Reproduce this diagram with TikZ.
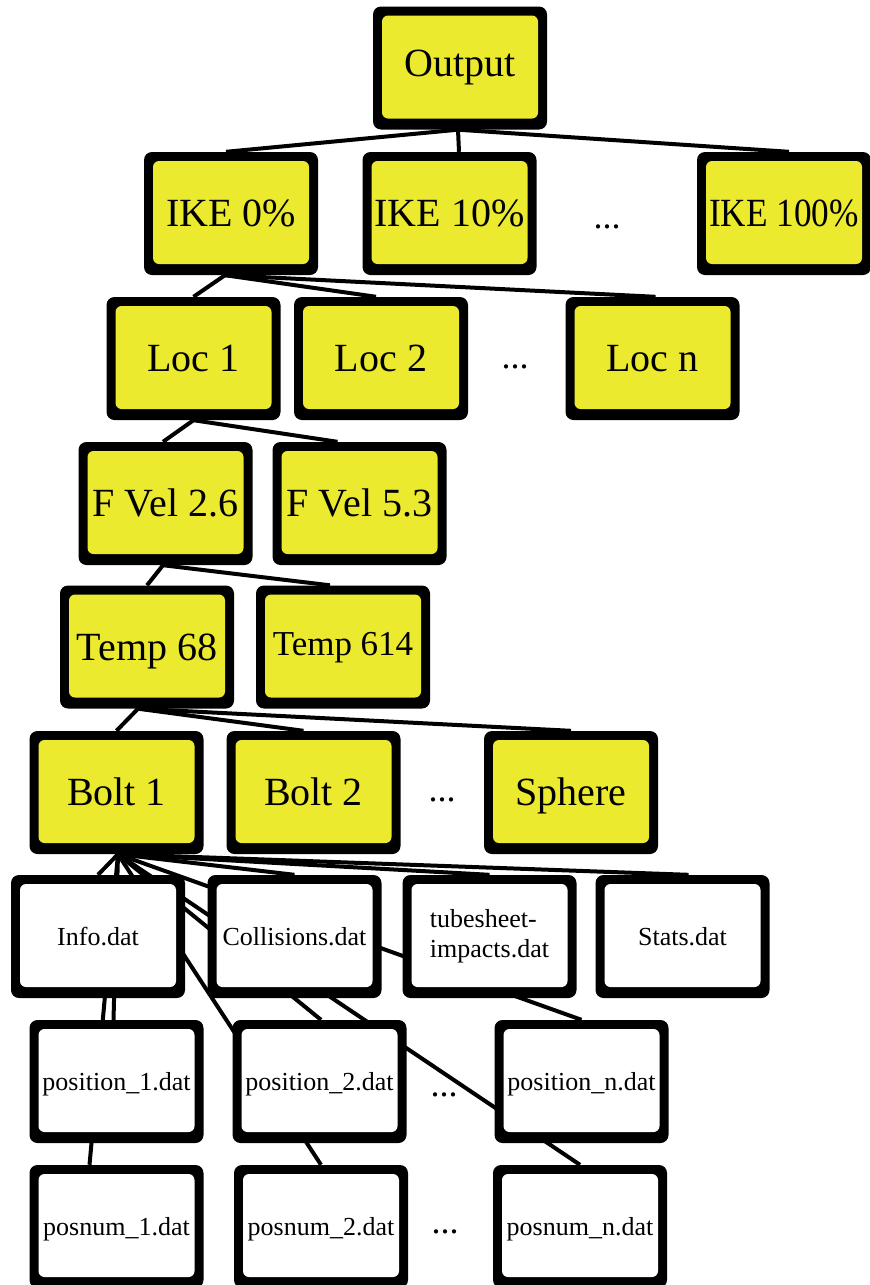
\documentclass[tikz,border=0pt]{standalone}
\usepackage{fontspec}
\setmainfont{Liberation Serif}
\usetikzlibrary{backgrounds,calc}
\definecolor{boxyellow}{RGB}{236,234,46}
\tikzset{
  boxbase/.style={fill=black, rounded corners=8pt, minimum width=174pt, minimum height=123pt,
    inner sep=0pt, text=black, align=center,
    path picture={\fill[#1, rounded corners=6pt]
      ([shift={(9pt,11pt)}]path picture bounding box.south west) rectangle
      ([shift={(-9pt,-9pt)}]path picture bounding box.north east);}},
  ybox/.style={boxbase=boxyellow, font=\fontsize{40}{44}\selectfont, text height=26.5pt, text depth=0pt},
  wbox/.style={boxbase=white, font=\fontsize{26}{30}\selectfont, text height=18pt, text depth=0pt},
  link/.style={line width=4pt, draw=black},
  dotsnode/.style={font=\fontsize{36}{40}\selectfont, inner sep=0pt},
}
\begin{document}
\begin{tikzpicture}[x=1pt,y=-1pt]
\useasboundingbox (0,0) rectangle (870,1285);
% row 1
\node[boxbase=boxyellow, font=\fontsize{40}{44}\selectfont] (out) at (460,68) {Output};
% row 2
\node[ybox] (ike0) at (231,213.5) {IKE 0\%};
\node[ybox] (ike10) at (449.5,213.5) {IKE 10\%};
\node[dotsnode] (d1) at (607,227) {...};
\node[ybox] (ike100) at (784,213.5) {\scalebox{0.88}[1]{IKE 100\%}};
% row 3
\node[ybox] (loc1) at (193.5,358.5) {Loc 1};
\node[ybox] (loc2) at (381,358.5) {Loc 2};
\node[dotsnode] (d2) at (515,367) {...};
\node[ybox] (locn) at (652.5,358.5) {Loc n};
% row 4
\node[ybox] (fv26) at (165.5,503.5) {F Vel 2.6};
\node[ybox] (fv53) at (359.5,503.5) {F Vel 5.3};
% row 5
\node[ybox] (t68) at (147,647) {Temp 68};
\node[ybox, font=\fontsize{35}{40}\selectfont, text height=17pt] (t614) at (343,647) {Temp 614};
% row 6
\node[ybox] (bolt1) at (116.5,792.5) {Bolt 1};
\node[ybox] (bolt2) at (313.5,792.5) {Bolt 2};
\node[dotsnode] (d3) at (442,800) {...};
\node[ybox] (sphere) at (571,792.5) {Sphere};
% row 7
\node[wbox] (info) at (98,936.5) {Info.dat};
\node[wbox] (coll) at (294.5,936.5) {Collisions.dat};
\node[boxbase=white, font=\fontsize{26}{30}\selectfont, align=left] (tube) at (489.5,936.5) {tubesheet-\\impacts.dat};
\node[wbox] (stats) at (682.5,936.5) {Stats.dat};
% row 8
\node[wbox] (pos1) at (116.5,1081.5) {position\_1.dat};
\node[wbox] (pos2) at (319.5,1081.5) {position\_2.dat};
\node[dotsnode] (d4) at (444,1095) {...};
\node[wbox] (posn) at (581.5,1081.5) {position\_n.dat};
% row 9
\node[wbox] (pn1) at (116.5,1226.5) {posnum\_1.dat};
\node[wbox] (pn2) at (321,1226.5) {posnum\_2.dat};
\node[dotsnode] (d5) at (445,1232) {...};
\node[wbox] (pnn) at (580,1226.5) {posnum\_n.dat};

\begin{scope}[on background layer]
\draw[link] ([xshift=-2pt]out.south) -- ([xshift=-5pt]ike0.north);
\draw[link] ([xshift=-2pt]out.south) -- ([xshift=9.5pt]ike10.north);
\draw[link] ([xshift=-2pt]out.south) -- ([xshift=5pt]ike100.north);
\draw[link] ([xshift=-6pt]ike0.south) -- (loc1.north);
\draw[link] ([xshift=-6pt]ike0.south) -- ([xshift=-5pt]loc2.north);
\draw[link] ([xshift=-6pt]ike0.south) -- ([xshift=3pt]locn.north);
\draw[link] (loc1.south) -- ([xshift=-2.5pt]fv26.north);
\draw[link] (loc1.south) -- ([xshift=-22pt]fv53.north);
\draw[link] ([xshift=-2.5pt]fv26.south) -- (t68.north);
\draw[link] ([xshift=-2.5pt]fv26.south) -- ([xshift=-13pt]t614.north);
\draw[link] ([xshift=-9pt]t68.south) -- (bolt1.north);
\draw[link] ([xshift=-9pt]t68.south) -- ([xshift=-10pt]bolt2.north);
\draw[link] ([xshift=-9pt]t68.south) -- (sphere.north);
\draw[link] ([xshift=1.5pt]bolt1.south) -- (info.north);
\draw[link] ([xshift=1.5pt]bolt1.south) -- (coll.north);
\draw[link] ([xshift=1.5pt]bolt1.south) -- (tube.north);
\draw[link] ([xshift=1.5pt]bolt1.south) -- ([xshift=6pt]stats.north);
\draw[link] ([xshift=1.5pt]bolt1.south) -- ([xshift=-3pt]pos1.north);
\draw[link] ([xshift=1.5pt]bolt1.south) -- ([xshift=-27pt]pn1.north);
\draw[link] ([xshift=1.5pt]bolt1.south) -- ([xshift=1.5pt]pos2.north);
\draw[link] ([xshift=1.5pt]bolt1.south) -- (pn2.north);
\draw[link] ([xshift=1.5pt]bolt1.south) -- (posn.north);
\draw[link] ([xshift=1.5pt]bolt1.south) -- (pnn.north);
\end{scope}
\end{tikzpicture}
\end{document}
